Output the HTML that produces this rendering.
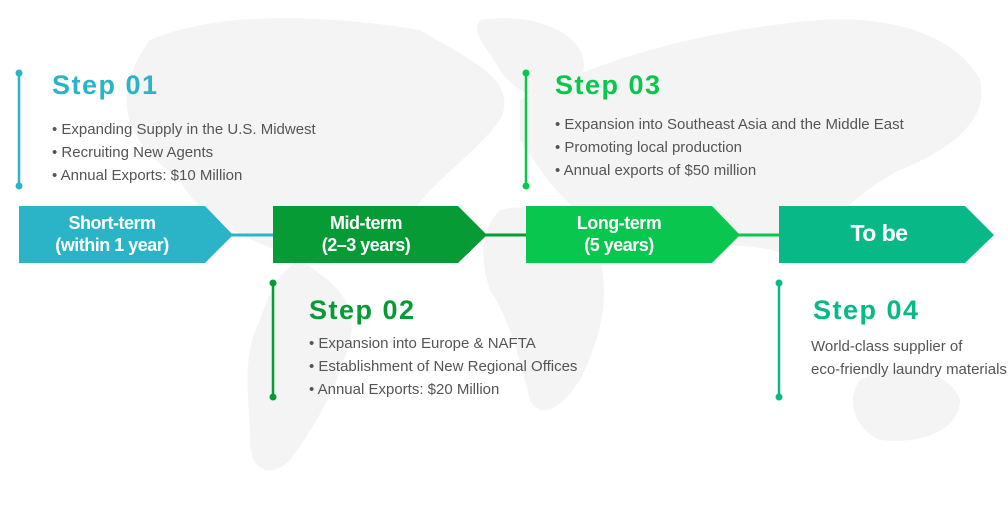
<!DOCTYPE html>
<html><head><meta charset="utf-8"><style>
body{margin:0;width:1008px;height:510px;background:#fff;position:relative;overflow:hidden;font-family:"Liberation Sans","DejaVu Sans",sans-serif}
.abs{position:absolute}
.t{position:absolute;font-weight:bold;font-size:27px;letter-spacing:1.5px;white-space:nowrap}
.b{position:absolute;font-size:15px;color:#555;line-height:23px;white-space:nowrap}
.lbl{position:absolute;color:#fff;font-weight:bold;text-align:center;font-size:18px;line-height:22px;letter-spacing:-0.5px}
</style></head><body>
<svg class="abs" style="left:0;top:0" width="1008" height="510">
<g fill="#f4f4f4">
<path d="M150 40 C220 10 330 15 420 30 C470 60 520 80 500 120 C470 160 430 180 400 230 C370 260 330 270 300 260 C250 240 200 220 180 180 C140 150 100 110 150 40Z"/>
<path d="M300 260 C330 280 360 300 350 340 C340 380 320 420 290 460 C270 480 250 470 250 440 C250 400 240 360 260 320 C270 290 280 270 300 260Z"/>
<path d="M480 20 C540 10 600 40 580 80 C560 110 520 100 500 70 C490 50 470 35 480 20Z"/>
<path d="M520 100 C600 60 700 30 820 20 C900 15 960 40 980 80 C990 120 950 150 900 170 C860 190 820 230 800 260 C780 250 740 240 700 250 C660 260 620 240 590 220 C560 200 540 170 520 140Z"/>
<path d="M500 210 C540 200 580 220 600 260 C610 300 600 340 580 380 C560 410 540 420 530 400 C520 360 510 320 490 290 C480 260 480 230 500 210Z"/>
<path d="M860 380 C900 360 950 370 960 400 C960 430 920 445 880 440 C855 430 845 400 860 380Z"/>
</g>
<line x1="200" y1="235" x2="800" y2="235" stroke="#2bb3c8" stroke-width="3"/>
<line x1="470" y1="235" x2="540" y2="235" stroke="#079b35" stroke-width="3"/>
<line x1="720" y1="235" x2="790" y2="235" stroke="#08c64e" stroke-width="3"/>
<polygon points="19,206 205,206 233,235 205,263 19,263" fill="#2bb3c8"/>
<polygon points="273,206 458,206 487,235 458,263 273,263" fill="#079b35"/>
<polygon points="526,206 712,206 740,235 712,263 526,263" fill="#08c64e"/>
<polygon points="779,206 965,206 994,235 965,263 779,263" fill="#08b987"/>
<g stroke-width="2.5">
<line x1="19" y1="73" x2="19" y2="186" stroke="#2bb3c8"/>
<line x1="526" y1="73" x2="526" y2="186" stroke="#08c64e"/>
<line x1="273" y1="283" x2="273" y2="397" stroke="#079b35"/>
<line x1="779" y1="283" x2="779" y2="397" stroke="#08b987"/>
</g>
<circle cx="19" cy="73" r="3.5" fill="#2bb3c8"/><circle cx="19" cy="186" r="3.5" fill="#2bb3c8"/>
<circle cx="526" cy="73" r="3.5" fill="#08c64e"/><circle cx="526" cy="186" r="3.5" fill="#08c64e"/>
<circle cx="273" cy="283" r="3.5" fill="#079b35"/><circle cx="273" cy="397" r="3.5" fill="#079b35"/>
<circle cx="779" cy="283" r="3.5" fill="#08b987"/><circle cx="779" cy="397" r="3.5" fill="#08b987"/>
</svg>
<div class="lbl" style="left:19px;top:212px;width:186px">Short-term<br>(within 1 year)</div>
<div class="lbl" style="left:273px;top:212px;width:186px">Mid-term<br>(2–3 years)</div>
<div class="lbl" style="left:526px;top:212px;width:186px">Long-term<br>(5 years)</div>
<div class="lbl" style="left:779px;top:222px;width:200px;font-size:23px">To be</div>

<div class="t" style="left:52px;top:70px;color:#2bb3c8">Step 01</div>
<div class="b" style="left:52px;top:118px">• Expanding Supply in the U.S. Midwest<br>• Recruiting New Agents<br>• Annual Exports: $10 Million</div>

<div class="t" style="left:555px;top:70px;color:#08c64e">Step 03</div>
<div class="b" style="left:555px;top:113px">• Expansion into Southeast Asia and the Middle East<br>• Promoting local production<br>• Annual exports of $50 million</div>

<div class="t" style="left:309px;top:295px;color:#079b35">Step 02</div>
<div class="b" style="left:309px;top:332px">• Expansion into Europe &amp; NAFTA<br>• Establishment of New Regional Offices<br>• Annual Exports: $20 Million</div>

<div class="t" style="left:813px;top:295px;color:#08b987">Step 04</div>
<div class="b" style="left:811px;top:335px">World-class supplier of<br>eco-friendly laundry materials</div>
</body></html>
